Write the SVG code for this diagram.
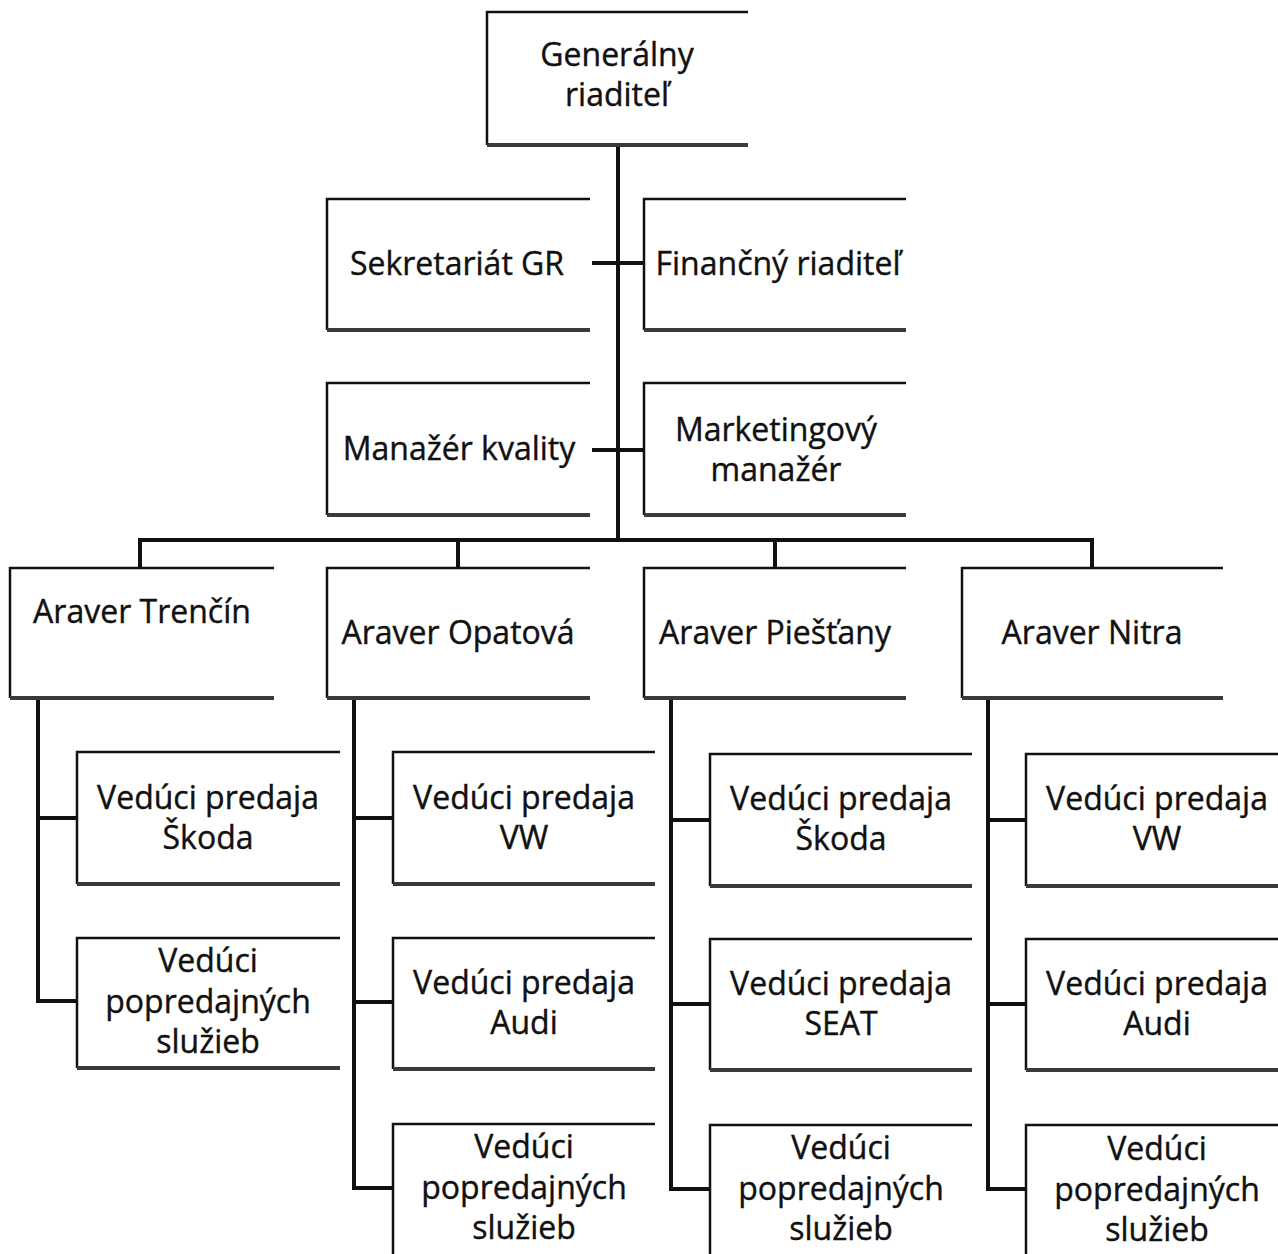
<svg xmlns="http://www.w3.org/2000/svg" width="1278" height="1254" viewBox="0 0 1278 1254">
<defs>
<style>
.bg{fill:#fff;stroke:none}
.edge{fill:none;stroke:#111;stroke-width:2.5}
.shadow{fill:none;stroke:#3a3a3a;stroke-width:4}
.t{font-family:"Open Sans",Lato,"Liberation Sans",sans-serif;font-size:32px;fill:#111;stroke:#111;stroke-width:0.4;text-anchor:middle}
.c{fill:none;stroke:#111;stroke-width:4;stroke-linecap:square}
</style>
</defs>
<rect x="0" y="0" width="1278" height="1254" fill="#fff"/>
<g id="connectors">
<path class="c" d="M618 146V540M140 540H1092M140 540V568M458 540V568M775 540V568M1092 540V568"/>
<path class="c" d="M594 263H644M594 450H644"/>
<path class="c" d="M38 699V1001M38 818H77M38 1001H77"/>
<path class="c" d="M354 699V1188M354 818H393M354 1002H393M354 1188H393"/>
<path class="c" d="M671 699V1189M671 820H710M671 1004H710M671 1189H710"/>
<path class="c" d="M988 699V1189M988 820H1026M988 1004H1026M988 1189H1026"/>
</g>
<g id="gr"><rect class="bg" x="487" y="12" width="261" height="133"/><path class="edge" d="M748 12H487V145"/><path class="shadow" d="M487 145H748"/><text class="t" x="617" y="66">Generálny</text><text class="t" x="617" y="106">riaditeľ</text></g>
<g id="sekretariat"><rect class="bg" x="327" y="199" width="263" height="131"/><path class="edge" d="M590 199H327V330"/><path class="shadow" d="M327 330H590"/><text class="t" x="457" y="275">Sekretariát GR</text></g>
<g id="financny"><rect class="bg" x="644" y="199" width="262" height="131"/><path class="edge" d="M906 199H644V330"/><path class="shadow" d="M644 330H906"/><text class="t" x="778" y="275">Finančný riaditeľ</text></g>
<g id="manazer-kvality"><rect class="bg" x="327" y="383" width="263" height="132"/><path class="edge" d="M590 383H327V515"/><path class="shadow" d="M327 515H590"/><text class="t" x="459" y="460">Manažér kvality</text></g>
<g id="marketing"><rect class="bg" x="644" y="383" width="262" height="132"/><path class="edge" d="M906 383H644V515"/><path class="shadow" d="M644 515H906"/><text class="t" x="776" y="441">Marketingový</text><text class="t" x="776" y="481">manažér</text></g>
<g id="trencin"><rect class="bg" x="10" y="568" width="264" height="130"/><path class="edge" d="M274 568H10V698"/><path class="shadow" d="M10 698H274"/><text class="t" x="142" y="623">Araver Trenčín</text></g>
<g id="opatova"><rect class="bg" x="327" y="568" width="263" height="130"/><path class="edge" d="M590 568H327V698"/><path class="shadow" d="M327 698H590"/><text class="t" x="458" y="644">Araver Opatová</text></g>
<g id="piestany"><rect class="bg" x="644" y="568" width="262" height="130"/><path class="edge" d="M906 568H644V698"/><path class="shadow" d="M644 698H906"/><text class="t" x="775" y="644">Araver Piešťany</text></g>
<g id="nitra"><rect class="bg" x="962" y="568" width="261" height="130"/><path class="edge" d="M1223 568H962V698"/><path class="shadow" d="M962 698H1223"/><text class="t" x="1092" y="644">Araver Nitra</text></g>
<g id="t-skoda"><rect class="bg" x="77" y="752" width="263" height="132"/><path class="edge" d="M340 752H77V884"/><path class="shadow" d="M77 884H340"/><text class="t" x="208" y="809">Vedúci predaja</text><text class="t" x="208" y="849">Škoda</text></g>
<g id="t-servis"><rect class="bg" x="77" y="938" width="263" height="130"/><path class="edge" d="M340 938H77V1068"/><path class="shadow" d="M77 1068H340"/><text class="t" x="208" y="972">Vedúci</text><text class="t" x="208" y="1013">popredajných</text><text class="t" x="208" y="1053">služieb</text></g>
<g id="o-vw"><rect class="bg" x="393" y="752" width="262" height="132"/><path class="edge" d="M655 752H393V884"/><path class="shadow" d="M393 884H655"/><text class="t" x="524" y="809">Vedúci predaja</text><text class="t" x="524" y="849">VW</text></g>
<g id="o-audi"><rect class="bg" x="393" y="938" width="262" height="131"/><path class="edge" d="M655 938H393V1069"/><path class="shadow" d="M393 1069H655"/><text class="t" x="524" y="994">Vedúci predaja</text><text class="t" x="524" y="1034">Audi</text></g>
<g id="o-servis"><rect class="bg" x="393" y="1124" width="262" height="130"/><path class="edge" d="M655 1124H393V1254"/><text class="t" x="524" y="1158">Vedúci</text><text class="t" x="524" y="1199">popredajných</text><text class="t" x="524" y="1239">služieb</text></g>
<g id="p-skoda"><rect class="bg" x="710" y="754" width="262" height="132"/><path class="edge" d="M972 754H710V886"/><path class="shadow" d="M710 886H972"/><text class="t" x="841" y="810">Vedúci predaja</text><text class="t" x="841" y="850">Škoda</text></g>
<g id="p-seat"><rect class="bg" x="710" y="939" width="262" height="131"/><path class="edge" d="M972 939H710V1070"/><path class="shadow" d="M710 1070H972"/><text class="t" x="841" y="995">Vedúci predaja</text><text class="t" x="841" y="1035">SEAT</text></g>
<g id="p-servis"><rect class="bg" x="710" y="1125" width="262" height="129"/><path class="edge" d="M972 1125H710V1254"/><text class="t" x="841" y="1159">Vedúci</text><text class="t" x="841" y="1200">popredajných</text><text class="t" x="841" y="1240">služieb</text></g>
<g id="n-vw"><rect class="bg" x="1026" y="754" width="252" height="132"/><path class="edge" d="M1278 754H1026V886"/><path class="shadow" d="M1026 886H1278"/><text class="t" x="1157" y="810">Vedúci predaja</text><text class="t" x="1157" y="850">VW</text></g>
<g id="n-audi"><rect class="bg" x="1026" y="939" width="252" height="131"/><path class="edge" d="M1278 939H1026V1070"/><path class="shadow" d="M1026 1070H1278"/><text class="t" x="1157" y="995">Vedúci predaja</text><text class="t" x="1157" y="1035">Audi</text></g>
<g id="n-servis"><rect class="bg" x="1026" y="1125" width="252" height="129"/><path class="edge" d="M1278 1125H1026V1254"/><text class="t" x="1157" y="1160">Vedúci</text><text class="t" x="1157" y="1201">popredajných</text><text class="t" x="1157" y="1241">služieb</text></g>
</svg>
